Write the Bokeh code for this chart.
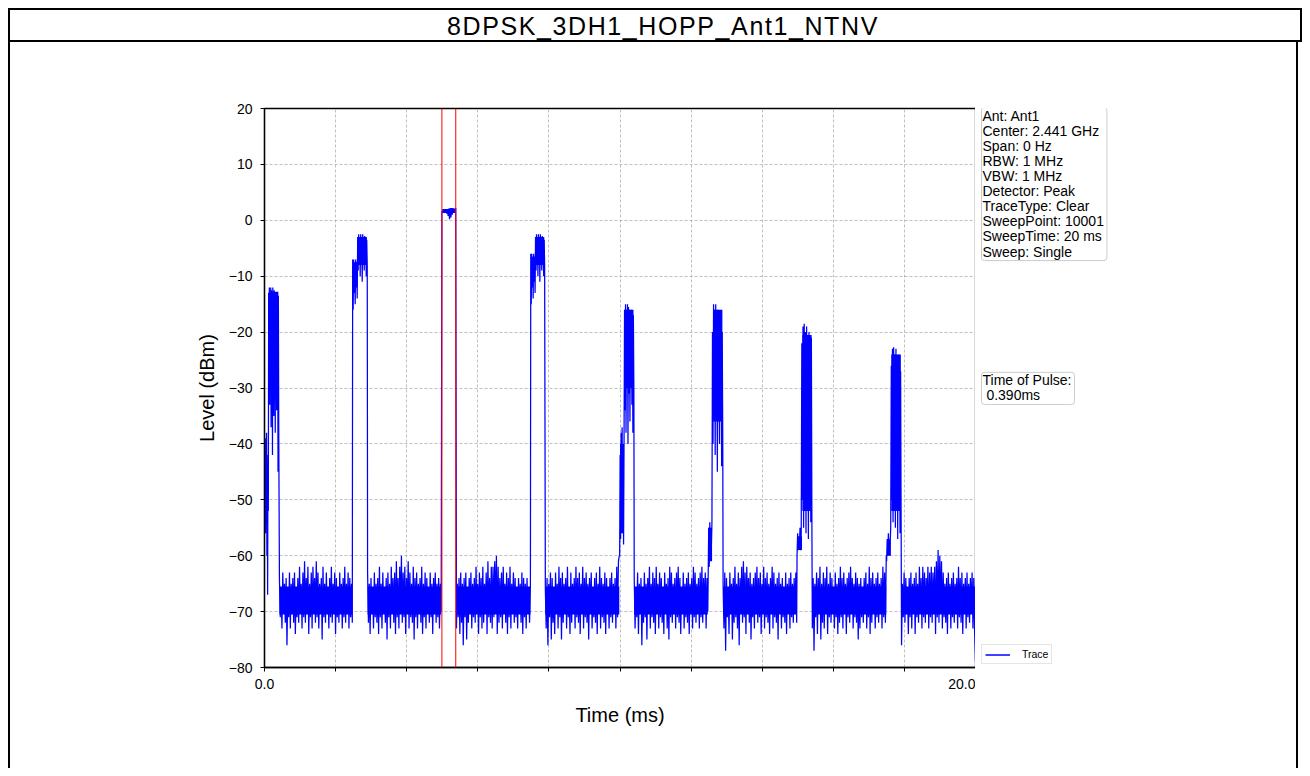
import numpy as np
from bokeh.plotting import figure
from bokeh.models import (Range1d, FixedTicker, Span, Label, Div, Legend, LegendItem)
from bokeh.layouts import column, row
from bokeh.embed import file_html
from bokeh.resources import INLINE

TITLE = "8DPSK_3DH1_HOPP_Ant1_NTNV"
INFO_TEXT = ("Ant: Ant1\nCenter: 2.441 GHz\nSpan: 0 Hz\nRBW: 1 MHz\nVBW: 1 MHz\n"
             "Detector: Peak\nTraceType: Clear\nSweepPoint: 10001\nSweepTime: 20 ms\nSweep: Single")
PULSE_TEXT = "Time of Pulse:\n\u00a00.390ms"
marker_times = [4.99, 5.38]

x_ticks = [0, 2, 4, 6, 8, 10, 12, 14, 16, 18, 20]
x_tick_labels = ["0.0", "", "", "", "", "", "", "", "", "", "20.0"]
y_ticks = [-80, -70, -60, -50, -40, -30, -20, -10, 0, 10, 20]
y_tick_labels = ["\u221280", "\u221270", "\u221260", "\u221250", "\u221240", "\u221230",
                 "\u221220", "\u221210", "0", "10", "20"]

# trace, read segment by segment (start ms, end ms, levels in dBm)
burst1 = [-38, -50, -39, -56, -40, -47, -38, -60, -45, -67, -42, -52, -13, -28, -12, -33, -13, -24, -12, -37,
          -12.5, -30, -13, -42, -12, -27, -13, -35, -12.5, -31, -13.5, -38, -13, -26, -13.5, -34, -13, -29,
          -14, -45, -13.5, -36]
noise1 = [-64, -71, -66, -73, -63, -70, -65, -72, -64, -76, -66, -71, -63, -73, -65, -70, -64, -72, -63, -74,
          -66, -71, -64, -72, -62, -70, -65, -73, -63, -71, -61, -72, -64, -70, -62, -74, -65, -71, -63, -73,
          -62, -70, -64, -72, -61, -71, -63, -73, -65, -70, -64, -75, -62, -71, -65, -72, -63, -70, -66, -73,
          -64, -71, -62, -72, -65, -70, -63, -74, -64, -71, -66, -72, -63, -70, -65, -73, -64, -71, -62, -72,
          -65, -70, -63, -73, -64, -71, -65, -72]
burst2 = [-7, -16, -7, -13, -8, -15, -7, -11, -7.5, -14, -3, -9, -2.5, -6, -3, -10, -2.5, -5, -3, -11,
          -2.5, -7, -3, -9, -2.8, -6, -3, -10, -3.5, -8]
noise2 = [-63, -72, -65, -74, -64, -70, -66, -73, -63, -71, -65, -72, -64, -74, -62, -71, -65, -73, -63, -70,
          -66, -72, -64, -75, -63, -71, -65, -73, -62, -70, -64, -72, -63, -74, -61, -71, -64, -73, -62, -70,
          -60, -72, -63, -71, -62, -74, -64, -70, -61, -73, -63, -71, -65, -72, -62, -75, -64, -71, -63, -73,
          -65, -70, -64, -72, -62, -74, -65, -71, -63, -73, -64, -70, -66, -72, -63, -71, -65, -74, -64, -70,
          -63, -72, -65, -71, -64, -73, -65, -70]
burst3 = [1.6, 1.5, 1.7, 1.6, 1.7, 1.5, 1.8, 1.2, 2.0, 0.8, 2.1, 0.2, 2.2, 0.5, 2.2, 1.0, 2.2, 1.4, 2.1, 1.6, 2.2]
noise3 = [-73, -65, -71, -64, -74, -63, -72, -65, -76, -64, -71, -63, -75, -66, -72, -64, -70, -63, -73, -65,
          -71, -64, -72, -62, -70, -65, -74, -63, -71, -64, -73, -62, -72, -65, -70, -63, -74, -61, -71, -64,
          -72, -62, -73, -62, -71, -61, -70, -60, -74, -62, -72, -64, -71, -63, -73, -62, -70, -65, -72, -63,
          -74, -64, -71, -62, -73, -65, -70, -63, -72, -64, -71, -66, -73, -64, -70, -65, -72, -63, -74, -64,
          -71, -65, -73, -64, -70, -66, -72, -65]
burst4 = [-6, -15, -6, -12, -7, -14, -6, -10, -6.5, -13, -3, -9, -2.5, -6, -3, -10, -2.5, -5, -3, -11,
          -2.5, -7, -3, -9, -2.8, -6, -3, -10, -3.5, -8]
noise4 = [-66, -73, -64, -76, -65, -71, -63, -75, -64, -72, -66, -74, -63, -70, -65, -73, -62, -71, -64, -75,
          -63, -72, -65, -70, -64, -73, -62, -71, -66, -74, -63, -72, -65, -70, -64, -73, -62, -71, -64, -72,
          -63, -74, -65, -70, -62, -73, -64, -71, -63, -72, -65, -75, -64, -70, -63, -73, -66, -71, -64, -72,
          -63, -74, -65, -70, -62, -73, -64, -71, -65, -72, -63, -74, -64, -70, -66, -73, -64, -71, -63, -72,
          -65, -70, -64, -73, -62, -71, -61, -60]
burst5 = [-60, -42, -57, -38, -55, -37, -50, -40, -58, -39, -16, -34, -15, -38, -16, -28, -15, -40, -15.5, -31,
          -16, -36, -17, -27, -16, -33, -18, -38, -17, -30]
noise5 = [-64, -73, -66, -71, -63, -74, -65, -70, -64, -76, -66, -72, -63, -71, -65, -75, -64, -70, -62, -73,
          -65, -71, -63, -72, -64, -74, -62, -70, -65, -73, -63, -71, -64, -72, -66, -74, -63, -70, -65, -73,
          -64, -75, -62, -71, -63, -72, -65, -70, -64, -73, -63, -71, -62, -72, -64, -74, -66, -70, -63, -73,
          -65, -71, -64, -72, -63, -74, -65, -70, -64, -73, -62, -71, -63, -72, -65, -70, -64, -73, -63, -71,
          -62, -72, -64, -70, -63, -73, -64, -70]
burst6 = [-64, -55, -62, -54, -60, -56, -58, -54, -20, -40, -15, -35, -16, -42, -15, -33, -17, -45, -16, -36,
          -18, -40, -17, -34, -19, -44, -20, -38]
noise6 = [-65, -73, -63, -77, -64, -71, -66, -74, -63, -70, -65, -75, -64, -72, -62, -71, -65, -73, -63, -76,
          -64, -70, -62, -72, -61, -71, -63, -74, -62, -70, -64, -72, -63, -75, -65, -71, -64, -73, -63, -70,
          -62, -72, -64, -71, -63, -74, -65, -70, -62, -73, -64, -71, -63, -72, -65, -74, -64, -70, -62, -73,
          -63, -71, -65, -72, -64, -75, -63, -70, -65, -73, -64, -71, -66, -72, -63, -74, -65, -70, -64, -73,
          -63, -71, -65, -72, -64, -70, -63, -72]
burst7 = [-60, -56, -59, -57, -58, -55, -59, -56, -22, -50, -19, -55, -18.5, -48, -20, -56, -19, -52, -21, -57,
          -20, -50, -22, -54, -21, -58]
noise7 = [-73, -64, -77, -65, -71, -63, -74, -64, -70, -62, -75, -65, -72, -63, -73, -64, -70, -62, -74, -65,
          -71, -63, -72, -64, -70, -66, -73, -63, -71, -65, -74, -64, -72, -62, -71, -64, -73, -63, -70, -65,
          -74, -64, -71, -63, -72, -62, -70, -64, -73, -65, -71, -63, -72, -64, -75, -65, -73, -64, -71, -66,
          -72, -64, -70, -63, -73, -65, -71, -62, -74, -64, -72, -63, -70, -65, -73, -64, -71, -63, -72, -65,
          -70, -64, -73, -62, -71, -63, -72, -60]
burst8 = [-61, -57, -60, -56, -59, -57, -58, -55, -26, -50, -23, -54, -22.7, -48, -24, -55, -23, -52, -25, -57,
          -24, -50, -26, -56, -27, -58]
noise8 = [-76, -65, -71, -63, -72, -64, -70, -66, -74, -64, -71, -63, -73, -65, -70, -64, -74, -63, -71, -65,
          -72, -62, -70, -64, -73, -62, -71, -63, -72, -64, -70, -62, -73, -63, -71, -62, -72, -63, -70, -62,
          -74, -61, -71, -59, -72, -60, -70, -61, -73, -63, -71, -65, -72, -64, -74, -63, -70, -65, -73, -64,
          -71, -63, -72, -65, -70, -64, -73, -62, -71, -64, -72, -63, -74, -65, -70, -64, -73, -63, -71, -65,
          -72, -64, -70, -63, -73, -64, -74, -79]

seg_start = [0.00, 0.42, 2.48, 2.90, 4.99, 5.40, 7.49, 7.90, 9.99, 10.40, 12.48, 12.90, 14.98, 15.41, 17.50, 17.92]
seg_end = [0.40, 2.47, 2.89, 4.97, 5.38, 7.48, 7.88, 9.98, 10.39, 12.47, 12.89, 14.97, 15.40, 17.49, 17.91, 20.0]
seg_values = [burst1, noise1, burst2, noise2, burst3, noise3, burst4, noise4,
              burst5, noise5, burst6, noise6, burst7, noise7, burst8, noise8]

# densely filled parts of the trace (start ms, end ms, top dBm, bottom dBm)
dense_start = [0.12, 2.49, 2.62, 5.00, 7.50, 7.62, 10.00, 10.13, 12.49, 12.62, 14.99, 15.13, 17.51, 17.63,
               0.42, 2.90, 5.40, 7.90, 10.40, 12.90, 15.41, 17.92]
dense_end = [0.39, 2.61, 2.88, 5.37, 7.61, 7.87, 10.11, 10.38, 12.59, 12.88, 15.12, 15.39, 17.62, 17.90,
             2.47, 4.97, 7.48, 9.98, 12.47, 14.97, 17.49, 20.0]
dense_top = [-12.8, -7.5, -3.0, 2.0, -6.5, -3.0, -40, -16, -55, -16, -56.5, -20.5, -57.5, -24,
             -65.5, -65.5, -65.5, -65.5, -65.5, -65.5, -65.5, -65.5]
dense_bottom = [-30, -12, -8, 1.3, -11, -8, -56, -30, -61, -36, -59, -52, -60, -52,
                -70.5, -70.5, -70.5, -70.5, -70.5, -70.5, -70.5, -70.5]

xs, ys = [], []
for s, e, v in zip(seg_start, seg_end, seg_values):
    xs.extend(np.linspace(s, e, len(v)).tolist())
    ys.extend(v)

FONT = "Liberation Sans"
BLUE = "#0000ff"

title_div = Div(text=TITLE, width=1294, height=34, margin=(8, 8, 0, 8),
                styles={"border": "2px solid black", "box-sizing": "border-box", "overflow": "visible",
                        "text-align": "center", "font-family": FONT, "font-size": "25px",
                        "letter-spacing": "1.6px", "line-height": "28px", "padding-top": "2px",
                        "padding-left": "16px", "color": "black"})

# main chart: frame 264..975 / 108..667
p = figure(width=967, height=726, output_backend="svg", toolbar_location=None,
           x_range=Range1d(0, 20), y_range=Range1d(-80, 20),
           min_border_left=254, min_border_right=2, min_border_top=66, min_border_bottom=101)
p.styles = {"border-left": "2px solid black"}
p.background_fill_color = "white"
p.border_fill_color = "white"
p.outline_line_color = "black"
p.outline_line_width = 1.3

p.quad(left=dense_start, right=dense_end, top=dense_top, bottom=dense_bottom,
       fill_color=BLUE, line_color=None)
r = p.line(xs, ys, line_color=BLUE, line_width=1.25)

for t in marker_times:
    p.add_layout(Span(location=t, dimension="height", line_color="red", line_width=1))

p.xaxis.ticker = FixedTicker(ticks=x_ticks)
p.yaxis.ticker = FixedTicker(ticks=y_ticks)
p.xaxis.major_label_overrides = dict(zip(x_ticks, x_tick_labels))
p.yaxis.major_label_overrides = dict(zip(y_ticks, y_tick_labels))
p.xaxis.axis_label = "Time (ms)"
p.yaxis.axis_label = "Level (dBm)"
for ax in (p.xaxis[0], p.yaxis[0]):
    ax.axis_line_color = "black"
    ax.axis_line_width = 1.3
    ax.major_tick_in = 0
    ax.major_tick_out = 4
    ax.major_tick_line_color = "black"
    ax.minor_tick_out = 0
    ax.minor_tick_in = 0
    ax.major_label_text_font = FONT
    ax.major_label_text_font_size = "14px"
    ax.major_label_text_color = "black"
    ax.axis_label_text_font = FONT
    ax.axis_label_text_font_size = "20px"
    ax.axis_label_text_font_style = "normal"
    ax.axis_label_text_color = "black"
p.xaxis.major_label_standoff = 7
p.yaxis.major_label_standoff = 8
p.xaxis.axis_label_standoff = 12
p.yaxis.axis_label_standoff = 8

for g in (p.xgrid[0], p.ygrid[0]):
    g.grid_line_color = "#b0b0b0"
    g.grid_line_dash = "3 2"
    g.grid_line_width = 0.8
p.xgrid.ticker = FixedTicker(ticks=x_ticks)
p.ygrid.ticker = FixedTicker(ticks=y_ticks)

# right-hand panel for the info boxes and legend (its frame is aligned with the chart's frame)
p2 = figure(width=323, height=726, output_backend="svg", toolbar_location=None,
            x_range=Range1d(0, 323), y_range=Range1d(-80, 20),
            x_axis_type=None, y_axis_type=None,
            min_border_left=0, min_border_right=0, min_border_top=66, min_border_bottom=101)
p2.styles = {"border-right": "2px solid black"}
p2.grid.visible = False
p2.outline_line_color = None
p2.background_fill_color = "white"
p2.border_fill_color = "white"


def make_label(y, text, y_off):
    lab = Label(x=6, y=y, y_offset=y_off, text=text, anchor="top_left",
                text_font=FONT, text_font_size="14px", text_color="black", text_line_height=0.945,
                border_line_color="#cccccc", border_line_width=1, background_fill_color="white",
                padding=2, border_radius=3)
    try:
        lab.padding = dict(left=1, right=3, top=0, bottom=1)
    except Exception:
        pass
    return lab


p2.add_layout(make_label(20, INFO_TEXT, 1))
p2.add_layout(make_label(-27.2, PULSE_TEXT, 0))

dummy = p2.line([-20, -10], [-100, -100], line_color=BLUE, line_width=1.5)
legend = Legend(items=[LegendItem(label="Trace", renderers=[dummy])], location=(6, 3),
                label_text_font=FONT, label_text_font_size="10.5px", label_text_color="black",
                glyph_width=25, glyph_height=11, label_height=11, padding=3, margin=0, spacing=0,
                label_standoff=12, border_line_color="#cccccc", background_fill_color="white")
p2.add_layout(legend)

layout = column(title_div, row(p, p2, spacing=0, margin=(0, 0, 0, 8)), spacing=0)
open("out.html", "w").write(file_html(layout, INLINE))
